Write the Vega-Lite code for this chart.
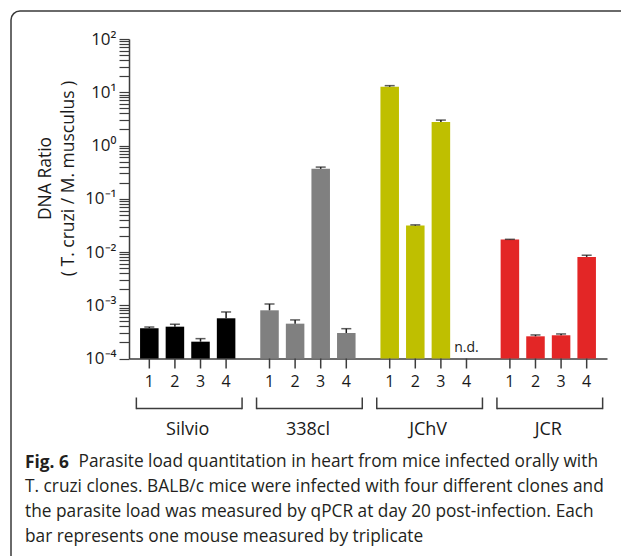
{
  "$schema": "https://vega.github.io/schema/vega-lite/v6.json",
  "width": 620,
  "height": 555,
  "autosize": "none",
  "padding": {"left": 11, "top": 11, "right": -10, "bottom": -10},
  "background": "white",
  "config": {
    "font": "Open Sans",
    "view": {"stroke": "#3a3a3a", "strokeWidth": 1.5, "cornerRadius": 9},
    "axis": {"domainColor": "#3c3c3c", "tickColor": "#3c3c3c", "labelColor": "#1a1a1a", "titleColor": "#1a1a1a", "grid": false}
  },
  "title": {
    "text": "Fig. 6",
    "subtitle": [
      "T. cruzi clones. BALB/c mice were infected with four different clones and",
      "the parasite load was measured by qPCR at day 20 post-infection. Each",
      "bar represents one mouse measured by triplicate"
    ],
    "orient": "bottom",
    "anchor": "start",
    "frame": "group",
    "offset": -112.5,
    "dx": 14,
    "font": "Open Sans",
    "fontSize": 17.3,
    "fontWeight": "bold",
    "color": "#231f20",
    "subtitleFont": "Open Sans",
    "subtitleFontSize": 17.3,
    "subtitleColor": "#231f20",
    "subtitleLineHeight": 24.8,
    "subtitlePadding": 7.5
  },
  "datasets": {
    "bars": [
      {"group": "Silvio", "mouse": "1", "value": 0.00037, "err": 0.00039},
      {"group": "Silvio", "mouse": "2", "value": 0.000396, "err": 0.00044},
      {"group": "Silvio", "mouse": "3", "value": 0.000207, "err": 0.000236},
      {"group": "Silvio", "mouse": "4", "value": 0.000569, "err": 0.000748},
      {"group": "338cl", "mouse": "1", "value": 0.000804, "err": 0.001057},
      {"group": "338cl", "mouse": "2", "value": 0.000451, "err": 0.00053},
      {"group": "338cl", "mouse": "3", "value": 0.365, "err": 0.393},
      {"group": "338cl", "mouse": "4", "value": 0.000301, "err": 0.000363},
      {"group": "JChV", "mouse": "1", "value": 12.7, "err": 13.3},
      {"group": "JChV", "mouse": "2", "value": 0.0313, "err": 0.0323},
      {"group": "JChV", "mouse": "3", "value": 2.75, "err": 3.0},
      {"group": "JChV", "mouse": "4", "value": null, "err": null, "note": "n.d."},
      {"group": "JCR", "mouse": "1", "value": 0.0171, "err": 0.0173},
      {"group": "JCR", "mouse": "2", "value": 0.000261, "err": 0.000277},
      {"group": "JCR", "mouse": "3", "value": 0.000273, "err": 0.000289},
      {"group": "JCR", "mouse": "4", "value": 0.00809, "err": 0.0087}
    ],
    "groups": [
      {"group": "Silvio"}, {"group": "338cl"}, {"group": "JChV"}, {"group": "JCR"}
    ]
  },
  "data": {"name": "bars"},
  "encoding": {
    "x": {
      "field": "group",
      "type": "nominal",
      "scale": {
        "type": "band",
        "domain": ["Silvio", "338cl", "JChV", "JCR"],
        "range": [118, 596],
        "paddingInner": 0.207,
        "paddingOuter": 0.092
      },
      "axis": {
        "orient": "bottom",
        "offset": -207.5,
        "ticks": false,
        "labelPadding": 62,
        "labelFontSize": 18,
        "labelAngle": 0,
        "domainWidth": 1.5,
        "title": "Parasite load quantitation in heart from mice infected orally with",
        "titleFont": "Open Sans",
        "titleFontSize": 17.3,
        "titleFontWeight": "normal",
        "titleColor": "#231f20",
        "titleAlign": "left",
        "titleBaseline": "alphabetic",
        "titleX": 67,
        "titleY": 108.2
      }
    }
  },
  "layer": [
    {
      "mark": {"type": "bar"},
      "encoding": {
        "xOffset": {"field": "mouse", "type": "nominal", "scale": {"paddingInner": 0.276, "paddingOuter": 0}},
        "y": {
          "field": "value",
          "type": "quantitative",
          "scale": {"type": "log", "domain": [0.0001, 100], "range": [347.5, 28], "nice": false},
          "axis": {
            "orient": "left",
            "offset": -118,
            "values": [0.0001,0.0002,0.0003,0.0004,0.0005,0.0006,0.0007,0.0008,0.0009,0.001,0.002,0.003,0.004,0.005,0.006,0.007,0.008,0.009,0.01,0.02,0.03,0.04,0.05,0.06,0.07,0.08,0.09,0.1,0.2,0.3,0.4,0.5,0.6,0.7,0.8,0.9,1,2,3,4,5,6,7,8,9,10,20,30,40,50,60,70,80,90,100],
            "labelExpr": "abs(log(datum.value)/LN10 - round(log(datum.value)/LN10)) < 0.001 ? '10' + ['⁻⁴','⁻³','⁻²','⁻¹','⁰','¹','²'][round(log(datum.value)/LN10) + 4] : ''",
            "tickSize": 10,
            "tickWidth": 1.2,
            "labelPadding": 3,
            "labelFontSize": 17,
            "labelBound": false,
            "labelOverlap": false,
            "domainWidth": 1.5,
            "title": ["DNA Ratio", "( T. cruzi / M. musculus  )"],
            "titleFontSize": 17.5,
            "titleFontWeight": "normal",
            "titleX": -75,
            "titleY": 167,
            "titleLineHeight": 23
          }
        },
        "y2": {"datum": 0.0001},
        "color": {
          "field": "group",
          "type": "nominal",
          "scale": {"domain": ["Silvio", "338cl", "JChV", "JCR"], "range": ["#000000", "#808080", "#bfbf00", "#e32626"]},
          "legend": null
        }
      }
    },
    {
      "mark": {"type": "rule", "color": "#1a1a1a", "strokeWidth": 1.5},
      "encoding": {
        "xOffset": {"field": "mouse", "type": "nominal"},
        "y": {"field": "value", "type": "quantitative"},
        "y2": {"field": "err"}
      }
    },
    {
      "mark": {"type": "tick", "color": "#1a1a1a", "thickness": 1.5, "size": 10, "orient": "horizontal"},
      "encoding": {
        "xOffset": {"field": "mouse", "type": "nominal"},
        "y": {"field": "err", "type": "quantitative"}
      }
    },
    {
      "mark": {"type": "rule", "color": "#3c3c3c", "strokeWidth": 1.5, "y2Offset": 10},
      "encoding": {
        "xOffset": {"field": "mouse", "type": "nominal"},
        "y": {"datum": 0.0001},
        "y2": {"datum": 0.0001}
      }
    },
    {
      "mark": {"type": "text", "fontSize": 16, "baseline": "alphabetic", "align": "center", "dy": 28, "color": "#1a1a1a"},
      "encoding": {
        "xOffset": {"field": "mouse", "type": "nominal"},
        "y": {"datum": 0.0001},
        "text": {"field": "mouse"}
      }
    },
    {
      "transform": [{"filter": "isValid(datum.note)"}],
      "mark": {"type": "text", "fontSize": 14, "baseline": "alphabetic", "align": "center", "dy": -7, "color": "#1a1a1a"},
      "encoding": {
        "xOffset": {"field": "mouse", "type": "nominal"},
        "y": {"datum": 0.0001},
        "text": {"field": "note"}
      }
    },
    {
      "data": {"name": "groups"},
      "mark": {"type": "rule", "color": "#3c3c3c", "strokeWidth": 1.5, "yOffset": 50, "xOffset": -3.7, "x2Offset": 6.7},
      "encoding": {
        "x": {"field": "group", "type": "nominal", "bandPosition": 0},
        "x2": {"field": "group", "bandPosition": 1},
        "y": {"datum": 0.0001}
      }
    },
    {
      "data": {"name": "groups"},
      "mark": {"type": "rule", "color": "#3c3c3c", "strokeWidth": 1.5, "yOffset": 39, "y2Offset": 50.7, "xOffset": -3.7},
      "encoding": {
        "x": {"field": "group", "type": "nominal", "bandPosition": 0},
        "y": {"datum": 0.0001},
        "y2": {"datum": 0.0001}
      }
    },
    {
      "data": {"name": "groups"},
      "mark": {"type": "rule", "color": "#3c3c3c", "strokeWidth": 1.5, "yOffset": 39, "y2Offset": 50.7, "xOffset": 6.7},
      "encoding": {
        "x": {"field": "group", "type": "nominal", "bandPosition": 1},
        "y": {"datum": 0.0001},
        "y2": {"datum": 0.0001}
      }
    }
  ]
}
